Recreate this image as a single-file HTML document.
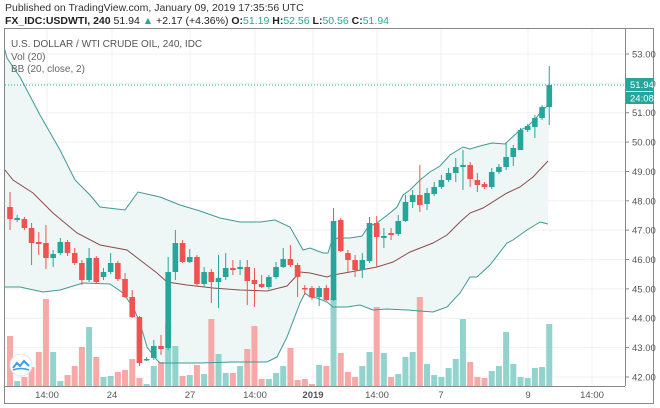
<!DOCTYPE html>
<html><head><meta charset="utf-8">
<style>
html,body{margin:0;padding:0;background:#fff;width:660px;height:408px;overflow:hidden;font-family:"Liberation Sans",sans-serif;}
#h1{position:absolute;left:5px;top:2px;font-size:10.5px;color:#333;}
#h2{position:absolute;left:5px;top:15px;font-size:10.5px;color:#222;font-weight:bold;}
#h2 .g{color:#26a69a;font-weight:normal}
#h2 .n{font-weight:normal}
svg{position:absolute;left:0;top:0}
</style></head><body>
<div id="h1">Published on TradingView.com, January 09, 2019 17:35:56 UTC</div>
<div id="h2">FX_IDC:USDWTI, 240 <span class="n">51.94 <span style="color:#26a69a">▲</span> +2.17 (+4.36%)</span> O:<span class="g">51.19</span> H:<span class="g">52.56</span> L:<span class="g">50.56</span> C:<span class="g">51.94</span></div>
<svg id="s" width="660" height="408" xmlns="http://www.w3.org/2000/svg" font-family="Liberation Sans, sans-serif"></svg>
<script>
var s=document.getElementById('s');var o='';
o+='<rect x="4.5" y="28.5" width="649" height="375" fill="none" stroke="#888"/>';
// grid
for(var p=42;p<=53;p++){var y=54+(53-p)*29.36;o+='<line x1="5" x2="625" y1="'+y+'" y2="'+y+'" stroke="#eef1f3"/>';o+='<line x1="625" x2="629" y1="'+y+'" y2="'+y+'" stroke="#888"/>';o+='<text x="632" y="'+(y+3.5)+'" font-size="9.5" fill="#555">'+p+'.00</text>';}
var tx=[[47,'14:00'],[112,'24'],[190,'27'],[255,'14:00'],[313,'2019'],[377,'14:00'],[441,'7'],[528,'9'],[592,'14:00']];
tx.forEach(function(t){o+='<line x1="'+t[0]+'" x2="'+t[0]+'" y1="29" y2="386" stroke="#eef1f3"/>';o+='<text x="'+t[0]+'" y="398" font-size="9.5" text-anchor="middle" fill="#555"'+(t[1]=='2019'?' font-weight="bold"':'')+'>'+t[1]+'</text>';});
var up=[[5,50],[7,58],[20,77],[40,115],[60,150],[75,180],[90,195],[100,207],[125,210],[138,192],[160,197],[180,205],[200,211],[220,218],[240,222],[260,222],[275,220],[290,227],[303,250],[310,248],[315,250],[323,253],[328,253],[332,240],[338,238],[350,238],[362,236],[368,227],[377,223],[390,213],[397,207],[403,195],[410,190],[420,180],[430,172],[440,166],[450,155],[463,147],[470,149],[480,146],[492,143],[505,144],[520,130],[527,127],[537,117],[542,110],[549,105]];
var lo=[[5,287],[20,287],[43,292],[60,290],[83,283],[110,284],[123,293],[133,307],[140,323],[147,347],[157,360],[160,363],[200,363],[233,362],[267,362],[277,357],[287,337],[300,303],[305,293],[310,297],[317,298],[327,302],[333,307],[347,307],[360,305],[373,310],[387,309],[407,310],[420,311],[433,312],[447,307],[460,293],[470,277],[477,277],[490,265],[507,243],[513,240],[527,230],[540,222],[548,224]];
var bs=[[5,170],[13,180],[33,193],[53,213],[77,233],[100,245],[127,250],[140,260],[157,273],[167,282],[187,285],[213,288],[240,290],[267,291],[287,286],[300,272],[310,273],[327,277],[333,275],[350,272],[377,267],[393,262],[410,252],[433,243],[447,235],[460,222],[470,213],[483,208],[507,193],[520,187],[533,177],[548,161]];
function pts(a){return a.map(function(q){return q[0]+','+q[1]}).join(' ');}
o+='<polygon points="'+pts(up)+' '+pts(lo.slice().reverse())+'" fill="#eef6f6"/>';
var C=[['r',207,219,192,230],['g',218,220,215,222],['r',219,228,217,230],['r',228,243,223,265],['r',242,244,232,255],['r',243,258,225,269],['g',254,258,250,267],['g',242,253,238,255],['r',242,253,240,256],['r',253,263,248,265],['r',263,280,260,285],['g',258,280,248,282],['r',258,282,256,284],['g',272,277,268,280],['g',263,272,253,274],['r',263,279,261,281],['r',279,297,273,298],['r',297,317,290,318],['r',317,363,316,366],['g',359,360,357,361],['g',346,358,340,360],['r',346,349,335,355],['g',272,348,257,350],['g',243,272,230,280],['r',243,262,240,263],['g',257,262,249,263],['r',257,284,255,286],['g',272,284,267,287],['r',272,282,269,303],['g',278,282,255,308],['g',268,277,253,280],['r',268,270,260,275],['g',267,269,260,275],['r',267,281,260,305],['r',280,284,268,307],['r',284,287,275,288],['g',277,287,275,289],['g',267,277,262,279],['g',259,267,248,268],['r',259,265,245,267],['r',265,277,263,297],['r',288,289,285,295],['r',288,297,286,300],['g',288,297,286,306],['r',288,300,285,301],['g',221,300,208,301],['r',220,251,218,252],['r',253,260,250,272],['r',260,270,255,277],['g',260,270,253,278],['g',223,261,217,263],['r',223,237,216,267],['g',236,238,228,248],['r',233,235,228,240],['g',221,234,215,236],['g',202,221,195,222],['g',195,202,190,208],['r',195,205,165,212],['g',193,204,188,210],['g',187,194,182,196],['g',180,187,175,189],['g',173,180,168,182],['g',167,173,158,182],['g',165,167,150,190],['r',165,179,162,187],['r',180,185,173,192],['r',184,187,182,189],['g',172,187,168,189],['g',167,172,164,174],['g',157,167,143,170],['g',148,157,145,166],['g',130,150,128,150],['g',126,130,124,132],['g',118,127,115,138],['g',107,118,105,120],['g',85,107,66,125]];
var V=[336,381,377,367,352,299,352,381,375,366,347,327,357,377,376,372,370,359,378,384,366,362,323,346,376,375,365,374,319,354,373,373,366,349,326,379,379,373,366,348,380,379,384,365,366,298,353,372,377,366,352,307,353,377,374,357,352,297,364,375,377,368,359,319,362,377,378,371,366,332,364,377,378,368,367,324];
// volumes
for(var i=0;i<76;i++){var x=10+i*7.19;var c=C[i][0]=='g'?'#93d3cd':'#f6a9a7';o+='<rect x="'+(x-3)+'" y="'+V[i]+'" width="6" height="'+(386-V[i])+'" fill="'+c+'"/>';}
o+='<polyline points="'+pts(up)+'" fill="none" stroke="#3d9a96" stroke-width="1"/>';
o+='<polyline points="'+pts(lo)+'" fill="none" stroke="#3d9a96" stroke-width="1"/>';
o+='<polyline points="'+pts(bs)+'" fill="none" stroke="#8e4b4b" stroke-width="1"/>';
for(var i=0;i<76;i++){var x=10+i*7.19,d=C[i],c=d[0]=='g'?'#26a69a':'#ef5350';var h=Math.max(d[2]-d[1],1.5);
o+='<line x1="'+x+'" x2="'+x+'" y1="'+d[3]+'" y2="'+d[4]+'" stroke="'+c+'"/>';
o+='<rect x="'+(x-2.8)+'" y="'+d[1]+'" width="5.6" height="'+h+'" fill="'+c+'"/>';}
o+='<line x1="5" x2="625" y1="85" y2="85" stroke="#26a69a" stroke-dasharray="1,2"/>';
o+='<line x1="625.5" x2="625.5" y1="29" y2="386" stroke="#888"/>';
o+='<line x1="5" x2="625" y1="386.5" y2="386.5" stroke="#888"/>';
o+='<rect x="626" y="78" width="28" height="13" fill="#26a69a"/><text x="630" y="88" font-size="9.5" fill="#fff">51.94</text>';
o+='<rect x="626" y="92" width="28" height="12" fill="#26a69a"/><text x="630" y="101.5" font-size="9.5" fill="#fff">24:08</text>';
o+='<text x="11" y="47" font-size="10" fill="#555">U.S. DOLLAR / WTI CRUDE OIL, 240, IDC</text>';
o+='<text x="11" y="60" font-size="10" fill="#666">Vol (20)</text>';
o+='<text x="11" y="72" font-size="10" fill="#666">BB (20, close, 2)</text>';
o+='<circle cx="21" cy="365" r="11" fill="#fff" stroke="#e3e8ec"/><path d="M13 368 l4 -5 l3 3 l4 -5 l5 5" fill="none" stroke="#3a9ee8" stroke-width="2"/><path d="M13 370 q8 -3 16 0" fill="none" stroke="#3a9ee8" stroke-width="1.5"/>';
s.innerHTML=o;
</script>
</body></html>
